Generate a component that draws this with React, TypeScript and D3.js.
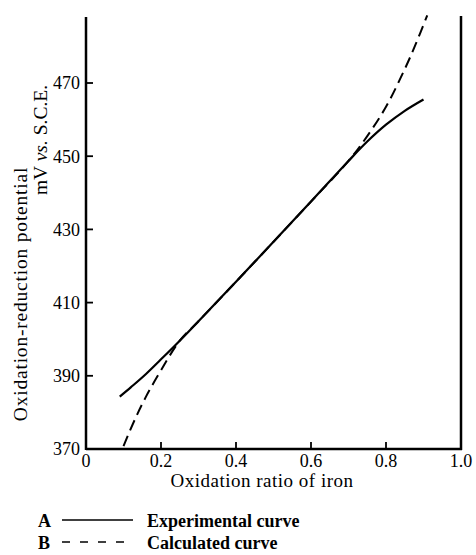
import React from "react";
import * as d3 from "d3";

const xTicks = [0, 0.2, 0.4, 0.6, 0.8, 1.0];
const xTickLabels = ["0", "0.2", "0.4", "0.6", "0.8", "1.0"];
const yTicks = [370, 390, 410, 430, 450, 470];

const expX = [0.09, 0.12, 0.16, 0.2, 0.25, 0.3, 0.4, 0.5, 0.6, 0.7, 0.75, 0.8, 0.85, 0.9];
const expY = [384.3, 386.9, 390.5, 394.5, 399.6, 404.9, 415.7, 426.6, 437.6, 448.7, 454.0, 458.6, 462.4, 465.5];

const calX = [0.1, 0.13, 0.16, 0.2, 0.25, 0.3, 0.4, 0.5, 0.6, 0.7, 0.75, 0.8, 0.85, 0.88, 0.91];
const calY = [370.8, 378.0, 384.3, 391.5, 399.6, 404.9, 415.7, 426.6, 437.6, 448.7, 455.5, 463.5, 473.8, 480.8, 488.5];

const legendKeys = ["A", "B"];
const legendLabels = ["Experimental curve", "Calculated curve"];

const FONT = "'Liberation Serif', 'Times New Roman', serif";

export default function App() {
  const x = d3.scaleLinear().domain([0, 1]).range([86, 461]);
  const y = d3.scaleLinear().domain([370, 470]).range([449, 83]);
  const yTop = 488;

  const line = d3
    .line<[number, number]>()
    .x((d) => x(d[0]))
    .y((d) => y(d[1]))
    .curve(d3.curveCatmullRom.alpha(0.5));

  const expPts = expX.map((v, i) => [v, expY[i]] as [number, number]);
  const calPts = calX.map((v, i) => [v, calY[i]] as [number, number]);

  return (
    <div style={{ position: "absolute", left: 0, top: 0 }}>
      <svg width={476} height={555} style={{ display: "block", background: "#fff" }} fontFamily={FONT}>
        {/* axes */}
        <line x1={x(0)} y1={y(yTop)} x2={x(0)} y2={y(370) + 1} stroke="#000" strokeWidth={2.5} />
        <line x1={x(1)} y1={y(yTop) - 1} x2={x(1)} y2={y(370) + 1} stroke="#000" strokeWidth={2.5} />
        <line x1={x(0)} y1={y(370)} x2={x(1) + 1} y2={y(370)} stroke="#000" strokeWidth={2.5} />

        {/* y ticks */}
        {yTicks.map((t) => (
          <g key={"y" + t}>
            {t !== 370 && (
              <line x1={x(0)} x2={x(0) + 7} y1={y(t)} y2={y(t)} stroke="#000" strokeWidth={1.8} />
            )}
            <text x={x(0) - 6} y={y(t)} dy="0.35em" textAnchor="end" fontSize={18} fill="#000">
              {t}
            </text>
          </g>
        ))}

        {/* x ticks */}
        {xTicks.map((t, i) => (
          <g key={"x" + t}>
            {t !== 0 && t !== 1 && (
              <line x1={x(t)} x2={x(t)} y1={y(370)} y2={y(370) - 7} stroke="#000" strokeWidth={1.8} />
            )}
            <text x={x(t)} y={467} textAnchor="middle" fontSize={18} fill="#000">
              {xTickLabels[i]}
            </text>
          </g>
        ))}

        {/* axis titles */}
        <text x={262} y={487} textAnchor="middle" fontSize={19} letterSpacing={0.5} fill="#000">
          Oxidation ratio of iron
        </text>
        <text
          transform="translate(27,294) rotate(-90)"
          textAnchor="middle"
          fontSize={19.5}
          letterSpacing={0.8}
          fill="#000"
        >
          Oxidation-reduction potential
        </text>
        <text transform="translate(47,140) rotate(-90)" textAnchor="middle" fontSize={19.5} fill="#000">
          mV <tspan fontStyle="italic">vs.</tspan> S.C.E.
        </text>

        {/* curves */}
        <path d={line(expPts) || ""} fill="none" stroke="#000" strokeWidth={2.2} />
        <path d={line(calPts) || ""} fill="none" stroke="#000" strokeWidth={2} strokeDasharray="11,6" />

        {/* legend */}
        {legendKeys.map((k, i) => {
          const yy = 527 + i * 22;
          return (
            <g key={k}>
              <text x={38} y={yy} fontSize={18} fontWeight="bold" fill="#000">
                {k}
              </text>
              <line
                x1={62}
                x2={i === 0 ? 133 : 130}
                y1={yy - 7}
                y2={yy - 7}
                stroke="#000"
                strokeWidth={1.3}
                strokeDasharray={i === 0 ? undefined : "8,10"}
              />
              <text x={147} y={yy} fontSize={18} fontWeight="bold" fill="#000">
                {legendLabels[i]}
              </text>
            </g>
          );
        })}
      </svg>
    </div>
  );
}
